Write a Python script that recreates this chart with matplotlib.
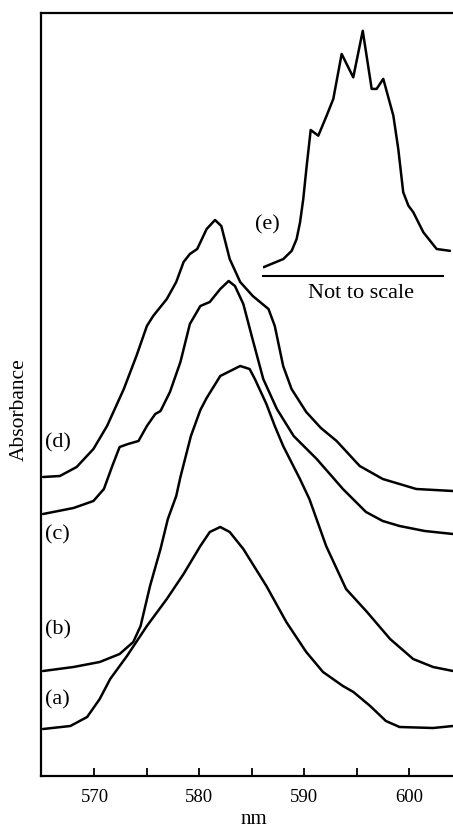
import matplotlib.pyplot as plt

plt.rcParams["font.family"] = ["Liberation Serif", "DejaVu Serif"]

# absorption spectra (nm, arbitrary absorbance, offset for display)
wl_a = [565.1, 567.7, 569.3, 570.5, 571.5, 573.1, 575.0, 576.9, 578.5, 580.1, 581.0, 582.0,
        582.9, 584.2, 586.4, 588.3, 590.2, 591.8, 593.7, 594.7, 596.3, 597.8, 599.1, 602.3, 604.2]
abs_a = [0.47, 0.50, 0.59, 0.77, 0.97, 1.20, 1.50, 1.77, 2.02, 2.30, 2.44, 2.49,
         2.44, 2.27, 1.90, 1.54, 1.24, 1.04, 0.90, 0.84, 0.70, 0.55, 0.49, 0.48, 0.50]

wl_b = [565.1, 568.0, 570.5, 572.4, 573.7, 574.4, 575.3, 576.3, 577.0, 577.8, 578.2, 579.2,
        580.1, 580.7, 582.0, 583.9, 584.8, 585.3, 586.4, 587.2, 588.0, 589.6, 590.5, 592.1,
        594.0, 596.0, 598.2, 600.4, 602.3, 604.2]
abs_b = [1.05, 1.09, 1.14, 1.22, 1.34, 1.50, 1.90, 2.27, 2.57, 2.80, 2.99, 3.40,
         3.66, 3.78, 4.00, 4.10, 4.07, 3.97, 3.72, 3.50, 3.30, 2.97, 2.77, 2.30,
         1.87, 1.64, 1.37, 1.17, 1.09, 1.05]

wl_c = [565.1, 568.0, 569.9, 570.9, 571.7, 572.4, 573.2, 574.2, 575.0, 575.8, 576.3, 577.2,
        578.2, 579.1, 580.1, 581.0, 582.0, 582.8, 583.4, 584.2, 585.0, 586.1, 587.4, 589.0,
        591.2, 593.7, 595.9, 597.5, 599.1, 601.5, 604.2]
abs_c = [2.62, 2.68, 2.75, 2.87, 3.10, 3.29, 3.32, 3.35, 3.50, 3.62, 3.65, 3.84,
         4.14, 4.52, 4.70, 4.74, 4.87, 4.95, 4.90, 4.72, 4.40, 3.97, 3.67, 3.40,
         3.17, 2.87, 2.64, 2.55, 2.50, 2.45, 2.42]

wl_d = [565.1, 566.7, 568.3, 569.9, 571.2, 572.8, 574.0, 575.0, 575.6, 576.9, 577.8, 578.5,
        579.1, 579.8, 580.7, 581.5, 582.1, 582.9, 583.9, 585.1, 586.6, 587.2, 588.0, 588.8,
        590.2, 591.6, 593.1, 595.3, 597.5, 600.7, 604.2]
abs_d = [2.99, 3.00, 3.09, 3.27, 3.50, 3.87, 4.20, 4.50, 4.60, 4.77, 4.94, 5.14,
         5.22, 5.27, 5.47, 5.56, 5.50, 5.17, 4.94, 4.80, 4.67, 4.50, 4.10, 3.87,
         3.64, 3.48, 3.35, 3.10, 2.97, 2.87, 2.85]

# inset spectrum (e), arbitrary units
pos_e = [0.2, 10.7, 15.1, 17.7, 19.5, 21.2, 23.0, 25.1, 29.1, 33.5, 37.0, 41.4, 47.5, 52.5,
         57.2, 59.8, 63.3, 68.6, 71.2, 73.8, 76.5, 79.1, 84.4, 91.4, 98.4]
abs_e = [3.4, 6.6, 9.8, 14.4, 20.9, 30.0, 42.9, 56.8, 54.6, 62.4, 68.9, 86.4, 77.3, 95.4,
         72.8, 72.8, 76.7, 62.4, 49.4, 32.6, 27.4, 24.8, 17.0, 10.5, 9.8]

labels = ["(a)", "(b)", "(c)", "(d)"]
label_y = [0.77, 1.47, 2.42, 3.34]

W, H = 453, 829
fig = plt.figure(figsize=(W / 100, H / 100), dpi=100)
ax = fig.add_axes([41 / W, 1 - 777 / H, (W - 41) / W, (777 - 14) / H])

for wl, a in [(wl_a, abs_a), (wl_b, abs_b), (wl_c, abs_c), (wl_d, abs_d)]:
    ax.plot(wl, a, color="black", lw=1.8, solid_joinstyle="round", solid_capstyle="round")

ax.set_xlim(564.9, 604.2)
ax.set_ylim(0, 7.63)
ax.spines["right"].set_visible(False)
for s in ["left", "bottom", "top"]:
    ax.spines[s].set_linewidth(1.6)
ax.set_yticks([])
ax.set_xticks([570, 580, 590, 600])
ax.set_xticks([575, 585, 595], minor=True)
ax.tick_params(axis="x", which="both", direction="in", length=5.5, width=1.3,
               labelsize=13.5, pad=8.5)
ax.set_xlabel("nm", fontsize=15)
ax.xaxis.set_label_coords(0.516, -0.043)
ax.set_ylabel("Absorbance", fontsize=15.5)
ax.yaxis.set_label_coords(-0.029, 0.481)

for lab, y in zip(labels, label_y):
    ax.text(565.3, y, lab, fontsize=16, va="center", ha="left")

# inset
ins = fig.add_axes([263 / W, 1 - 277 / H, (W - 263) / W, (277 - 20) / H])
ins.plot(pos_e, abs_e, color="black", lw=1.8, solid_joinstyle="round", solid_capstyle="round")
ins.set_xlim(0, 100)
ins.set_ylim(0, 100)
ins.patch.set_visible(False)
for s in ["left", "right", "top"]:
    ins.spines[s].set_visible(False)
ins.spines["bottom"].set_linewidth(1.5)
ins.spines["bottom"].set_bounds(0.2, 94.9)
ins.set_xticks([])
ins.set_yticks([])
ins.text(9, 20.2, "(e)", fontsize=16, ha="right", va="center")
ins.text(51.4, -6.6, "Not to scale", fontsize=16, ha="center", va="center")

fig.savefig("out.png", dpi=100)
